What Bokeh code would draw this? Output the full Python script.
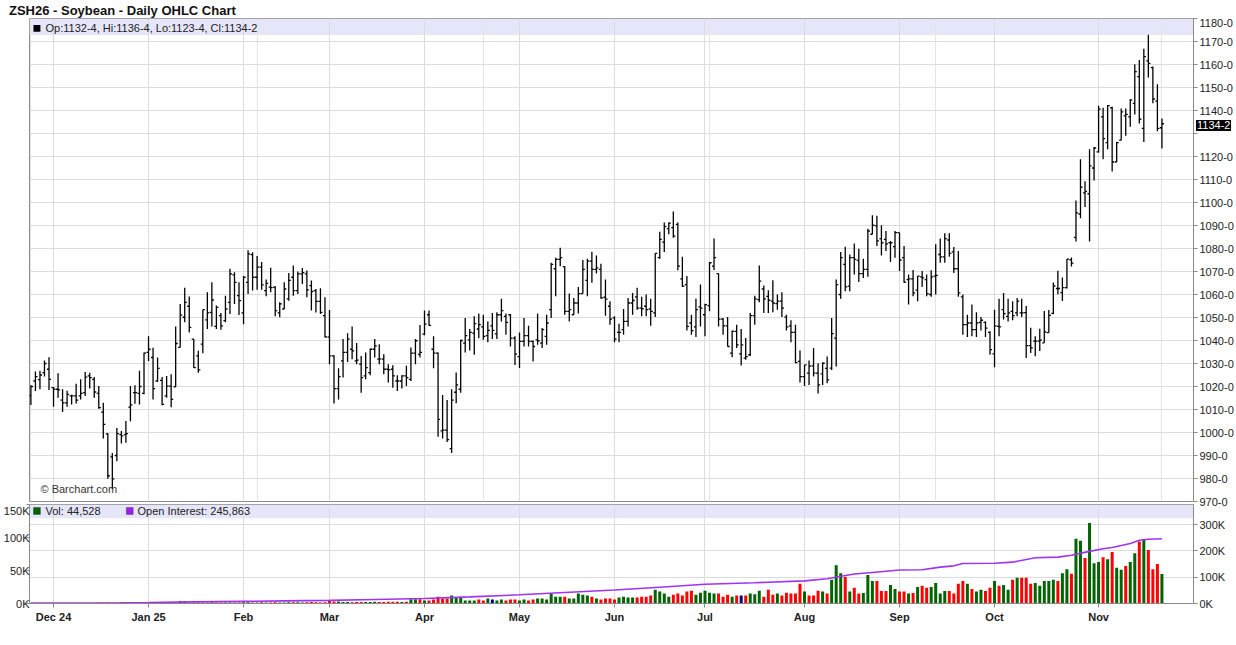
from bokeh.plotting import figure
from bokeh.models import (ColumnDataSource, FixedTicker, LinearAxis, Range1d, Label,
                          BoxAnnotation, Div, Grid)
from bokeh.layouts import column
from bokeh.embed import file_html
from bokeh.resources import INLINE

title_text = "ZSH26 - Soybean - Daily OHLC Chart"
month_idx = [5, 26, 47, 66, 87, 108, 129, 149, 171, 192, 213, 236]
month_labels = ["Dec 24", "Jan 25", "Feb", "Mar", "Apr", "May", "Jun", "Jul", "Aug", "Sep", "Oct", "Nov"]
price_ticks = list(range(970, 1181, 10))
vol_ticks = [0, 50, 100, 150]
oi_ticks = [0, 100, 200, 300]

opens = [1016, 1022.4, 1023, 1026, 1027.5, 1019.5, 1018.8, 1014.1, 1012.9, 1015.9,
         1015.9, 1015.9, 1017.3, 1024.6, 1023.1, 1017, 1008.9, 999.4, 989.4, 990,
         999.1, 999.1, 1011, 1017.3, 1017, 1017, 1034.8, 1032.6, 1022.4, 1022.7,
         1015.9, 1020.2, 1019.9, 1037, 1050.1, 1054.9, 1040.6, 1033.3, 1038.4, 1049,
         1052.2, 1046.1, 1050.8, 1048.6, 1056.6, 1068.5, 1059.5, 1052, 1065.3, 1077.3,
         1067.5, 1071.9, 1061.7, 1063.2, 1063.2, 1052, 1053.7, 1058.1, 1067.5, 1061.7,
         1069, 1069, 1063.9, 1061.7, 1057, 1050.8, 1041.5, 1033.3, 1019.1, 1031.1,
         1034.8, 1036.2, 1031.1, 1029.7, 1024.6, 1026, 1036.2, 1031.9, 1031.9, 1027.5,
         1027.5, 1022.4, 1022.4, 1024.6, 1023.1, 1034.5, 1034, 1042.8, 1051.2, 1036.2,
         1034.5, 1000.7, 1001, 993, 1017.5, 1018.8, 1038.9, 1040.3, 1043.2, 1045,
         1045.9, 1042.1, 1046.4, 1042.9, 1051.2, 1050.5, 1051.2, 1041, 1033, 1039.6,
         1042.1, 1039.6, 1040.3, 1038.9, 1041.8, 1053.4, 1071.2, 1075.3, 1072.1, 1052.7,
         1051.2, 1056.3, 1060.4, 1066.1, 1074.5, 1070.9, 1070.9, 1058.8, 1054.9, 1049.8,
         1043.5, 1044.7, 1048.3, 1056.3, 1059, 1054.1, 1054.9, 1053.7, 1052, 1076,
         1082.8, 1088.6, 1089.1, 1090.5, 1066.8, 1064.3, 1047.6, 1045.9, 1054.6, 1051.2,
         1055.2, 1072.3, 1069.1, 1049.3, 1046.4, 1034.5, 1044, 1034.2, 1032.3, 1033.8,
         1050.8, 1057.8, 1062.4, 1059.2, 1057.1, 1056, 1057.1, 1050.2, 1046.4, 1043.5,
         1030.9, 1024.3, 1025.8, 1029, 1025.8, 1025.5, 1027.9, 1028, 1041, 1060,
         1073.1, 1063.6, 1076, 1074.8, 1069.1, 1070.9, 1086.2, 1089.8, 1084.3, 1084,
         1082.5, 1080.8, 1086.9, 1076, 1066.5, 1066.8, 1061.9, 1067.7, 1066.5, 1060,
         1068, 1077.4, 1076.4, 1083.7, 1078.5, 1071.2, 1059, 1046.9, 1047.6, 1044.7,
         1047.9, 1047.9, 1043.5, 1034.2, 1046.1, 1053.4, 1050.5, 1052.7, 1052, 1052,
         1052.1, 1037.8, 1039.7, 1039.7, 1039, 1043.4, 1051.8, 1062.6, 1060.8, 1063,
         1075.1, 1084.8, 1095, 1104.2, 1103.8, 1115, 1122, 1137.2, 1126, 1141.2,
         1117.6, 1127.1, 1137.7, 1137.2, 1143.1, 1154.7, 1132.2, 1161.6, 1158.6, 1144.1,
         1132.5]

highs = [1020.5, 1026.5, 1026.8, 1031.3, 1032.7, 1019.8, 1025.8, 1018.8, 1018.2, 1016.4,
         1021.2, 1023.1, 1026.3, 1026, 1024.1, 1020.2, 1012.9, 999.8, 991.1, 1002,
         1000.6, 1005, 1020.2, 1020.5, 1026.8, 1034.8, 1041.8, 1036.8, 1032.6, 1024.1,
         1024.6, 1025.3, 1046.1, 1055.9, 1062.9, 1059.1, 1040.6, 1035.5, 1053.4, 1061,
         1065.3, 1055.2, 1052, 1059.5, 1071.2, 1069.7, 1065.3, 1068, 1079.2, 1078.4,
         1076.7, 1074.1, 1066.5, 1071.6, 1063.6, 1056.6, 1065.3, 1069.4, 1072.6, 1070,
         1071.5, 1070.4, 1066.1, 1062.4, 1062.7, 1058.8, 1053.3, 1033.6, 1027.9, 1040.6,
         1043.1, 1046.1, 1038.9, 1033.3, 1034.8, 1036.5, 1040.6, 1038.4, 1034, 1029.7,
         1029.2, 1024.9, 1024.9, 1029, 1037, 1040.6, 1046.7, 1053, 1053, 1041.8,
         1034.8, 1016.3, 1014.1, 1018.8, 1026.1, 1040.3, 1049.8, 1045, 1050.5, 1051.7,
         1051.2, 1048.3, 1052, 1052.3, 1058.2, 1051.7, 1051.5, 1041.8, 1043.5, 1049.8,
         1046.4, 1040, 1051.7, 1045.4, 1051.2, 1073.8, 1076, 1080.3, 1072.3, 1060.4,
         1058.5, 1063.3, 1075, 1075.5, 1078.6, 1077, 1073.4, 1066.5, 1057.1, 1050.5,
         1047.3, 1053.7, 1058.5, 1060.7, 1062.9, 1059, 1060, 1058.1, 1077.9, 1087.3,
         1091.3, 1091.3, 1096.1, 1091.3, 1076.4, 1068, 1051.2, 1058.1, 1064.3, 1056,
         1074.1, 1084.3, 1069.1, 1049.8, 1050.2, 1044.4, 1046.9, 1045, 1041.1, 1052,
         1059.5, 1072.6, 1063.9, 1061.9, 1066.2, 1060, 1061, 1051.2, 1048.8, 1046.9,
         1035.7, 1029.4, 1031.3, 1036.7, 1030.1, 1030.4, 1033, 1049.8, 1066.5, 1078.5,
         1080.8, 1077.4, 1082.2, 1079.9, 1075.5, 1088.6, 1094.5, 1094.2, 1090.1, 1087.6,
         1083.3, 1087.6, 1086.9, 1081.1, 1068.7, 1070.6, 1068, 1070.2, 1068.7, 1070.5,
         1081.8, 1084.3, 1086.6, 1086.6, 1080.6, 1078.9, 1060, 1051.2, 1055.6, 1052.3,
         1050.2, 1048.3, 1044, 1053.4, 1058.2, 1060.7, 1058.1, 1057.1, 1058.5, 1058.1,
         1055, 1045.5, 1041.9, 1045.1, 1052.8, 1053.3, 1065.2, 1070.3, 1067.4, 1075.4,
         1076.1, 1100.9, 1118.8, 1109.2, 1123.1, 1124.1, 1142.1, 1141.2, 1142.4, 1141.6,
         1126.3, 1140.9, 1140.9, 1145, 1160.1, 1162, 1166.8, 1172.9, 1159.1, 1151.4,
         1136.5]

lows = [1012, 1018, 1018.8, 1024.3, 1018.5, 1011.2, 1015.1, 1008.9, 1011.2, 1012.2,
        1012.6, 1014.4, 1015.9, 1019.1, 1015.1, 1010.3, 997.4, 979.9, 975.4, 987.5,
        995.2, 995.5, 1004.9, 1012.5, 1012.2, 1016.6, 1031.1, 1014.4, 1022.1, 1011.8,
        1015.1, 1011, 1019.9, 1037, 1047.9, 1043.5, 1028.2, 1026, 1034.5, 1045,
        1046.1, 1045, 1044.7, 1047.9, 1051.5, 1055.9, 1051.1, 1047.1, 1060.2, 1061.7,
        1062.1, 1062.1, 1059.2, 1061, 1050.5, 1050.1, 1053.7, 1057.3, 1059.5, 1060.2,
        1064.6, 1058.8, 1053, 1052.2, 1051.5, 1041.3, 1029.7, 1012.6, 1014.4, 1023.9,
        1030.7, 1031.9, 1029.7, 1017.3, 1023.1, 1024.9, 1032.6, 1029.7, 1025.3, 1021.7,
        1019.5, 1018, 1019.1, 1020.2, 1022.4, 1029.7, 1032.6, 1042.3, 1046.4, 1027.9,
        998.1, 997.4, 995.9, 991.1, 1012.7, 1017.3, 1034.8, 1035.7, 1033.8, 1041,
        1040.3, 1039.2, 1040.6, 1040.6, 1048.3, 1042.5, 1037.4, 1029.4, 1028, 1037.4,
        1037.4, 1030.9, 1038.1, 1036.7, 1038.1, 1049.8, 1059.2, 1072.3, 1051.2, 1048.3,
        1051.2, 1051.7, 1060.4, 1059.2, 1065.1, 1069.1, 1058.1, 1050.8, 1046.9, 1039.2,
        1039.2, 1042.5, 1046.1, 1051.2, 1053.4, 1050.5, 1050.5, 1046.4, 1050.2, 1075.5,
        1078.5, 1086.2, 1084.7, 1070.5, 1063.3, 1044.4, 1042.5, 1041.5, 1046.1, 1041.8,
        1052.7, 1070.6, 1046.1, 1042.5, 1037.4, 1032.7, 1036.7, 1029.1, 1031.6, 1033.3,
        1046.9, 1056.6, 1052, 1052, 1052.3, 1053.4, 1050.2, 1044.4, 1039.2, 1030.1,
        1021.7, 1020.2, 1020.7, 1024.3, 1017, 1020.7, 1021.4, 1027.2, 1028.7, 1058.1,
        1061.4, 1061.4, 1068.7, 1065.4, 1067.2, 1067.7, 1086.2, 1081.1, 1077, 1078.9,
        1074.1, 1076, 1070.2, 1065.1, 1055.6, 1059.2, 1057.1, 1063.3, 1059.2, 1059,
        1060, 1073.8, 1073.8, 1076.4, 1069.4, 1059, 1042.5, 1041.5, 1041.8, 1041.5,
        1044.4, 1041.5, 1033.8, 1028.4, 1041.8, 1049.1, 1048.3, 1048.8, 1050.5, 1050.2,
        1032.4, 1034.6, 1033.2, 1035.4, 1039, 1043.4, 1051.4, 1060.1, 1057.2, 1062.6,
        1072.2, 1083, 1093.1, 1098, 1083, 1109.6, 1121.7, 1118.8, 1123.1, 1113.5,
        1117.6, 1127.1, 1129, 1132.9, 1138.3, 1134.3, 1126.3, 1154.3, 1143.1, 1131,
        1123.5]

closes = [1020, 1024.3, 1025, 1030, 1023.1, 1018.8, 1018.5, 1012.9, 1016.6, 1015.9,
          1014.1, 1017, 1024.1, 1023.9, 1017.6, 1010.8, 1003.5, 981.2, 979.8, 999.5,
          998.5, 999.5, 1012, 1017.3, 1020, 1034.5, 1036.2, 1019.1, 1027.9, 1012.2,
          1020.2, 1014.4, 1038.7, 1051, 1056.6, 1045.7, 1028.2, 1027.2, 1053.4, 1052,
          1057.6, 1054.4, 1046.4, 1053.7, 1069, 1065.3, 1057.3, 1067.5, 1077.7, 1067.5,
          1071.9, 1064.2, 1064.8, 1063, 1053, 1055.9, 1062.4, 1066.1, 1061.7, 1069,
          1069.5, 1062, 1061.3, 1057, 1052.2, 1041.6, 1033.3, 1019.1, 1024.3, 1034.8,
          1040.6, 1035.5, 1031.5, 1023.9, 1028.2, 1036.2, 1037.7, 1032, 1027.5, 1027.2,
          1024.6, 1022.4, 1024.6, 1023.9, 1034.5, 1039.9, 1034.8, 1047.1, 1046.6, 1034.5,
          1005.7, 1001, 996.9, 1014.1, 1020.7, 1040, 1042.1, 1043.5, 1047.3, 1046.9,
          1041.8, 1044.4, 1044.4, 1051.2, 1053, 1047.9, 1041, 1034.1, 1039.6, 1042.1,
          1039.6, 1037.4, 1039.9, 1044.7, 1047.6, 1073.1, 1075.3, 1076, 1052.7, 1053.4,
          1056.3, 1060.4, 1070.9, 1074.5, 1070.9, 1071.6, 1058.5, 1058, 1049.3, 1040.6,
          1043.5, 1048.3, 1056.3, 1057.4, 1054.1, 1053.8, 1053.4, 1052.7, 1077.9, 1084,
          1089.5, 1091, 1085.4, 1072.3, 1063.6, 1046.1, 1044.3, 1053.4, 1054.1, 1055.6,
          1073.8, 1076, 1049.3, 1046.4, 1037.4, 1044, 1038.1, 1038.1, 1033, 1050.8,
          1058.1, 1065.8, 1058.1, 1057.5, 1056.3, 1057.1, 1054.1, 1045.9, 1043.5, 1030.4,
          1024.3, 1029.4, 1028.9, 1025.8, 1020.7, 1030.1, 1022.9, 1043, 1064.3, 1076,
          1063.3, 1076, 1075.3, 1069.1, 1070.9, 1087.6, 1090.1, 1083.3, 1082.5, 1082,
          1082.5, 1086.9, 1075, 1065.4, 1066.8, 1060.7, 1068, 1067.2, 1060.4, 1067.7,
          1068.3, 1076.4, 1084.3, 1077.9, 1071.2, 1060.7, 1046.9, 1047.6, 1044.7, 1047.6,
          1048.8, 1045.4, 1036, 1046.4, 1045.9, 1051.7, 1052, 1050.8, 1057.1, 1052,
          1037.8, 1036.8, 1039.7, 1040.2, 1043.7, 1050.9, 1063.7, 1062.6, 1063, 1075.4,
          1073.6, 1095.5, 1106.7, 1104.8, 1115.9, 1123.7, 1140.6, 1127.8, 1142.1, 1117.6,
          1126, 1139.4, 1138.3, 1144.5, 1156.9, 1136.2, 1163.4, 1160.5, 1145, 1132.2,
          1134.25]

# volume in thousands of contracts
volume_k = [0.3, 0.3, 0.4, 0.3, 0.5, 0.4, 0.3, 0.4, 0.5, 0.4, 0.5,
            0.8, 0.6, 0.5, 0.7, 1.0, 1.2, 1.5, 1.0, 1.3, 1.5, 1.2, 1.4, 1.0, 0.9, 1.1,
            1.8, 2.0, 1.9, 1.6, 1.5, 1.4, 1.7, 3.6, 3.4, 1.6, 1.5, 1.4, 1.5, 1.6, 1.8,
            1.5, 1.4, 1.6, 1.7, 1.5, 1.6,
            2.0, 1.8, 1.7, 1.6, 1.9, 1.5, 1.4, 1.8, 1.6, 1.7, 1.9, 2.0, 1.8, 1.6, 1.9,
            2.1, 1.8, 1.7, 2.0,
            5.0, 3.2, 3.0, 2.4, 2.2, 2.0, 2.3, 2.2, 2.1, 2.4, 2.6, 2.3, 2.2, 2.5, 2.6,
            2.8, 2.4, 2.7,
            6.5, 6.5, 6.5, 4.5, 4.5, 6, 10.4, 7.5, 7.5, 12,
            9, 9, 4.5, 4.5, 4.5, 6, 4.5, 7.5, 6, 4.5,
            6, 4.5, 6, 6, 4.5, 6, 4.5, 6, 7.5, 7.5,
            6, 15, 10.4, 10.4, 10.4, 7.5, 7.5, 15, 13.4, 12,
            10.4, 7.5, 6, 7.5, 7.5, 6, 9, 10.4, 9, 9,
            9, 10.4, 10.4, 12, 21, 18, 15, 10.4, 13.4, 15,
            12, 18, 19.4, 13.4, 16.4, 19.4, 16.4, 15, 15, 10.4,
            13.4, 10.4, 12, 12, 12, 15, 14, 19.4, 10.4, 21,
            13.4, 15, 12, 16.4, 15, 15, 30, 18, 12, 12,
            19.4, 18, 15,
            36, 58, 46, 40, 18, 24, 15, 16, 43, 34,
            34, 19, 19, 28, 22, 18, 18, 15, 16, 25,
            27, 24, 25, 31, 15, 19, 19, 15, 30, 34,
            30, 22, 18, 21, 19, 24, 34, 27, 28, 21,
            36, 39, 39, 39, 30, 31, 27, 34, 34, 36,
            34, 46, 52, 45, 98, 95, 69, 122, 61, 63,
            70, 67, 78, 54, 51, 57, 63, 76, 94, 97,
            81, 52, 60, 44.528]

# open interest (thousands), read at selected sessions
oi_idx = [0, 10, 20, 26, 36, 47, 56, 66, 76, 87, 97, 108, 118, 129, 139, 149, 160, 171,
          176, 182, 186, 192, 197, 201, 204, 206, 213, 217, 222, 227, 230, 234, 237, 239,
          241, 243, 245, 247, 250]
oi_k = [1.5, 2, 3, 4, 6, 8, 10, 12, 15, 19, 25, 33, 42, 51, 62, 73, 79, 86,
        94, 112, 118, 127, 128, 138, 143, 152, 153, 157, 174, 176, 183, 198, 208, 213,
        220, 228, 240, 244, 245.863]

legend_price = "Op:1132-4, Hi:1136-4, Lo:1123-4, Cl:1134-2"
last_close_label = "1134-2"
vol_legend = "Vol: 44,528"
oi_legend = "Open Interest: 245,863"

FONT = "Liberation Sans"
GRID = "#dcdcdc"
FRAME = "#8a8a8a"
BAND = "#e6e6fa"
TXT = "#222222"
GREEN = "#006400"
RED = "#ff0000"
NAVY = "#000080"
PURPLE = "#a033f0"

n = len(closes)
xs = list(range(n))
half = 0.45
colors = []
for i in range(n):
    ref = opens[0] if i == 0 else closes[i - 1]
    colors.append(GREEN if closes[i] > ref else (RED if closes[i] < ref else NAVY))

src = ColumnDataSource(dict(x=xs, xl=[x - half for x in xs], xr=[x + half for x in xs],
                            o=opens, h=highs, l=lows, c=closes,
                            v=volume_k, col=colors))

xr = Range1d(-0.31, 256.98)
PY0, PY1 = 970, 1180
FRAME_TOP, FRAME_H = 18, 483

# ---------------- price panel ----------------
pf = figure(width=1236, height=492, x_range=xr, y_range=Range1d(PY0, PY1),
            x_axis_location=None, y_axis_location="right",
            output_backend="svg", toolbar_location=None,
            min_border_left=29, min_border_right=42, min_border_top=0, min_border_bottom=9,
            background_fill_color="white", border_fill_color="white",
            outline_line_color=FRAME)
ax = pf.yaxis[0]
ax.ticker = FixedTicker(ticks=price_ticks)
ax.major_label_overrides = {v: ("" if v == 1130 else f"{v}-0") for v in price_ticks}
ax.major_label_text_font = FONT
ax.major_label_text_font_size = "11px"
ax.major_label_text_color = TXT
ax.major_tick_out = 4
ax.major_tick_in = 0
ax.minor_tick_out = 0
ax.minor_tick_in = 0
ax.major_label_standoff = 2
ax.axis_line_color = FRAME
ax.major_tick_line_color = FRAME
pf.ygrid.grid_line_color = GRID
pf.add_layout(Grid(dimension=0, ticker=FixedTicker(ticks=month_idx), grid_line_color=GRID))

pf.add_layout(BoxAnnotation(top=1180, bottom=1172.8, fill_color=BAND, fill_alpha=1.0,
                            line_color=None, level="image"))

pf.segment(x0="x", y0="l", x1="x", y1="h", source=src, line_color="black", line_width=1.3)
pf.segment(x0="xl", y0="o", x1="x", y1="o", source=src, line_color="black", line_width=1.3)
pf.segment(x0="x", y0="c", x1="xr", y1="c", source=src, line_color="black", line_width=1.3)

pf.add_layout(BoxAnnotation(left=0.57, right=2.1, top=1177.2, bottom=1174.2,
                            fill_color="black", fill_alpha=1.0, line_color=None))
pf.add_layout(Label(x=-0.31, y=1176.0, x_offset=16, text=legend_price,
                    text_font=FONT, text_font_size="11px", text_color=TXT,
                    text_baseline="middle"))
pf.add_layout(Label(x=-0.31, y=970, x_offset=11, y_offset=13, text="© Barchart.com",
                    text_font=FONT, text_font_size="11px", text_color="#333333",
                    text_baseline="middle"))

# ---------------- volume panel ----------------
vf = figure(width=1236, height=121, x_range=xr, y_range=Range1d(0, 150),
            output_backend="svg", toolbar_location=None,
            min_border_left=29, min_border_right=42, min_border_top=0, min_border_bottom=21,
            background_fill_color="white", border_fill_color="white", border_fill_alpha=0.0,
            outline_line_color=FRAME, margin=(-6, 0, 0, 0))
vf.extra_y_ranges = {"oi": Range1d(0, 376)}

vax = vf.yaxis[0]
vax.ticker = FixedTicker(ticks=vol_ticks)
vax.major_label_overrides = {v: f"{v}K" for v in vol_ticks}
oax = LinearAxis(y_range_name="oi", ticker=FixedTicker(ticks=oi_ticks))
oax.major_label_overrides = {v: f"{v}K" for v in oi_ticks}
vf.add_layout(oax, "right")
for a in (vax, oax):
    a.major_label_text_font = FONT
    a.major_label_text_font_size = "11px"
    a.major_label_text_color = TXT
    a.major_tick_out = 4
    a.major_tick_in = 0
    a.minor_tick_out = 0
    a.minor_tick_in = 0
    a.axis_line_color = FRAME
    a.major_tick_line_color = FRAME
vax.major_tick_out = 3
vax.major_label_standoff = -3
oax.major_label_standoff = 2

xa = vf.xaxis[0]
xa.ticker = FixedTicker(ticks=month_idx)
xa.major_label_overrides = {m: lab for m, lab in zip(month_idx, month_labels)}
xa.major_label_text_font = FONT
xa.major_label_text_font_size = "11px"
xa.major_label_text_font_style = "bold"
xa.major_label_text_color = TXT
xa.major_tick_out = 4
xa.major_tick_in = 0
xa.minor_tick_out = 0
xa.minor_tick_in = 0
xa.major_label_standoff = 3
xa.axis_line_color = FRAME
xa.major_tick_line_color = FRAME

vf.xgrid.grid_line_color = GRID
vf.ygrid.visible = False
vf.add_layout(Grid(dimension=1, ticker=FixedTicker(ticks=[100, 200, 300]),
                   y_range_name="oi", grid_line_color=GRID))
vf.add_layout(BoxAnnotation(top=150, bottom=129, fill_color=BAND, fill_alpha=1.0,
                            line_color=None, level="image"))

vf.vbar(x="x", top="v", bottom=0, width=0.66, source=src, fill_color="col",
        line_color=None)
vf.line(x=oi_idx, y=oi_k, y_range_name="oi", line_color=PURPLE, line_width=1.6)

vf.add_layout(BoxAnnotation(left=0.57, right=2.1, top=145.5, bottom=135,
                            fill_color=GREEN, fill_alpha=1.0, line_color="#111111",
                            line_width=1))
vf.add_layout(Label(x=-0.31, y=140.3, x_offset=16, text=vol_legend,
                    text_font=FONT, text_font_size="11px", text_color=TXT,
                    text_baseline="middle"))
vf.add_layout(BoxAnnotation(left=21.1, right=22.6, top=145.5, bottom=135,
                            fill_color="#9b1ff0", fill_alpha=1.0, line_color="#111111",
                            line_width=1))
vf.add_layout(Label(x=-0.31, y=140.3, x_offset=108, text=oi_legend,
                    text_font=FONT, text_font_size="11px", text_color=TXT,
                    text_baseline="middle"))

title = Div(text=('<div style="padding:2px 0 0 9px;font-family:\'Liberation Sans\',Arial,sans-serif;'
                  'font-size:13px;font-weight:bold;color:#111;white-space:nowrap">'
                  + title_text + '</div>'),
            width=1236, height=18, margin=(0, 0, 0, 0))

# last-price marker on the right price scale (outside the plot frame)
marker_top = FRAME_TOP + (PY1 - closes[-1]) / (PY1 - PY0) * FRAME_H - 6
marker = Div(text=('<div style="background:#000;color:#fff;font-family:\'Liberation Sans\',Arial,sans-serif;'
                   'font-size:11px;line-height:11px;padding:0 1px;white-space:nowrap">'
                   + last_close_label + '</div>'),
             width=38, height=11, margin=(0, 0, 0, 0),
             styles={"position": "absolute", "left": "1196px", "top": f"{marker_top:.0f}px",
                     "z-index": "10"})

layout = column(title, pf, vf, marker, spacing=0, styles={"position": "relative"})

open("out.html", "w").write(file_html(layout, INLINE))
